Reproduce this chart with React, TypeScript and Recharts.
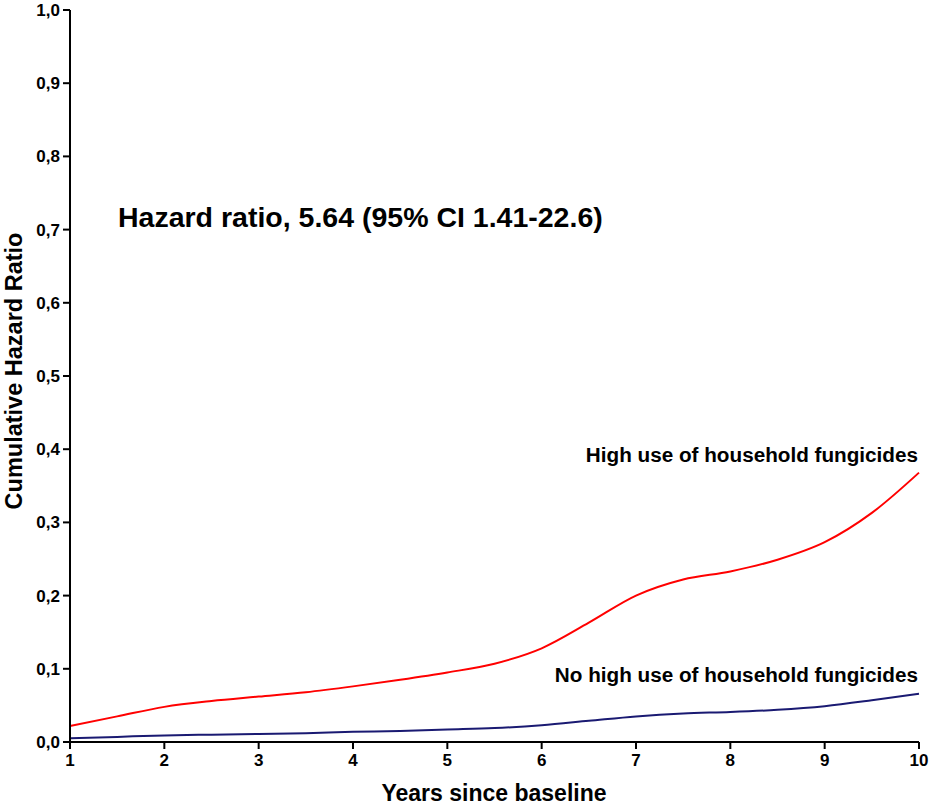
import { LineChart, Line, XAxis, YAxis } from 'recharts';

const YEARS = [1, 1.5, 2, 2.5, 3, 3.5, 4, 4.5, 5, 5.5, 6, 6.5, 7, 7.5, 8, 8.5, 9, 9.5, 10];
const HIGH_USE = [0.022, 0.035, 0.048, 0.056, 0.062, 0.068, 0.076, 0.085, 0.095, 0.107, 0.128, 0.163, 0.2, 0.222, 0.233, 0.249, 0.273, 0.313, 0.368];
const NO_HIGH_USE = [0.005, 0.007, 0.009, 0.01, 0.011, 0.012, 0.014, 0.015, 0.017, 0.019, 0.023, 0.029, 0.035, 0.039, 0.041, 0.044, 0.049, 0.057, 0.066];
const X_TICKS = [1, 2, 3, 4, 5, 6, 7, 8, 9, 10];
const Y_TICKS = [0, 0.1, 0.2, 0.3, 0.4, 0.5, 0.6, 0.7, 0.8, 0.9, 1.0];

const data = YEARS.map((year, i) => ({ year, high: HIGH_USE[i], noHigh: NO_HIGH_USE[i] }));

const FONT = '"Liberation Sans", Arial, sans-serif';
const W = 935;
const H = 810;

export default function App() {
    const tickStyle = { fill: '#000', fontSize: 17, fontWeight: 'bold' as const, fontFamily: FONT };

    return (
        <div style={{ position: 'absolute', left: 0, top: 0, width: W, height: H, background: '#fff' }}>
            <LineChart width={W} height={H} data={data} margin={{ top: 10, right: 16, left: 0, bottom: 0 }}>
                <XAxis
                    dataKey="year"
                    type="number"
                    domain={[1, 10]}
                    ticks={X_TICKS}
                    height={68}
                    tickSize={7}
                    tickMargin={5}
                    tick={tickStyle}
                    axisLine={{ stroke: '#000', strokeWidth: 2 }}
                    tickLine={{ stroke: '#000', strokeWidth: 2 }}
                />
                <YAxis
                    type="number"
                    domain={[0, 1]}
                    ticks={Y_TICKS}
                    width={70}
                    tickSize={7}
                    tickMargin={3}
                    tick={tickStyle}
                    tickFormatter={(v: number) => v.toFixed(1).replace('.', ',')}
                    axisLine={{ stroke: '#000', strokeWidth: 2 }}
                    tickLine={{ stroke: '#000', strokeWidth: 2 }}
                />
                <Line type="monotone" dataKey="high" stroke="#ff0000" strokeWidth={2} dot={false} isAnimationActive={false} />
                <Line type="monotone" dataKey="noHigh" stroke="#1a1a72" strokeWidth={2} dot={false} isAnimationActive={false} />
            </LineChart>
            <svg width={W} height={H} style={{ position: 'absolute', left: 0, top: 0, pointerEvents: 'none' }}>
                <g fontFamily={FONT} fontWeight="bold" fill="#000">
                    <text x={118} y={227} fontSize={28.5}>Hazard ratio, 5.64 (95% CI 1.41-22.6)</text>
                    <text x={918} y={462} fontSize={20.7} textAnchor="end">High use of household fungicides</text>
                    <text x={918} y={682} fontSize={20.7} textAnchor="end">No high use of household fungicides</text>
                    <text x={494} y={801} fontSize={23} textAnchor="middle">Years since baseline</text>
                    <text x={22} y={371} fontSize={23.5} textAnchor="middle" transform="rotate(-90 22 371)">Cumulative Hazard Ratio</text>
                </g>
            </svg>
        </div>
    );
}
